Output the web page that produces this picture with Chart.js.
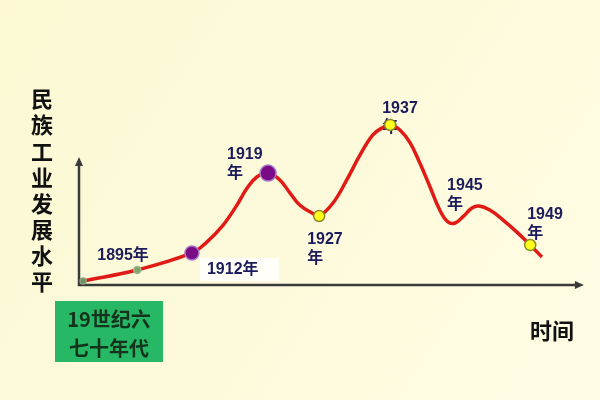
<!DOCTYPE html>
<html>
<head>
<meta charset="utf-8">
<script src="https://cdn.jsdelivr.net/npm/chart.js@4.4.1/dist/chart.umd.min.js"></script>
<style>
body { margin: 0; background: #fcfad8; }
#wrap { width: 600px; height: 400px; }
</style>
</head>
<body>
<div id="wrap"><canvas id="curveChart" width="600" height="400"></canvas></div>
<script>
// curve (x = time, y = level, both on a 0-100 scale)
var curveX = [0.8, 11.4, 22.1, 25.0, 28.2, 30.9, 32.9, 34.8, 37.0, 39.3, 41.3, 43.2, 45.6, 47.0, 49.7, 52.4, 55.0, 57.5, 59.3, 60.9, 62.8, 64.8, 66.7, 68.7, 70.6, 72.2, 73.6, 75.1, 76.9, 78.3, 80.4, 83.0, 85.7, 88.3, 90.6];
var curveY = [2.2, 8.1, 17.3, 23.2, 32.4, 43.2, 52.4, 58.4, 60.5, 56.8, 49.7, 43.2, 38.9, 37.3, 44.3, 56.8, 70.3, 81.1, 84.9, 86.5, 83.8, 76.8, 65.9, 53.0, 40.5, 34.1, 33.5, 36.8, 41.6, 42.7, 40.5, 35.1, 28.6, 21.6, 15.1];

// marked points on the curve
var markIndex = [0, 1, 2, 8, 13, 19, 33];
var markFill = ['#6f8f62', '#7fa36a', '#7a0a86', '#7a0a86', '#ffff1a', '#ffff1a', '#ffff1a'];
var markBorder = ['#8aa37d', '#9ab889', '#a676c4', '#a676c4', '#8c8a2a', '#8c8a2a', '#8c8a2a'];
var markSize = [3, 3.5, 7, 8, 5.5, 5.5, 5.5];

// year labels and the curve point each one sits by
var yearLabels = [['1895年'], ['1912年'], ['1919', '年'], ['1927', '年'], ['1937', '年'], ['1945', '年'], ['1949', '年']];
var labelIndex = [1, 2, 8, 13, 19, 26, 33];

var yTitle = '民族工业发展水平';
var xTitle = '时间';
var startNote = ['19世纪六', '七十年代'];

var curveData = curveX.map(function(x, i) { return { x: x, y: curveY[i] }; });
var markData = markIndex.map(function(i) { return { x: curveX[i], y: curveY[i] }; });

// where each label's text starts, relative to its curve point
var labelOffsets = [
    { dx: -40, dy: -14 },
    { dx: 15, dy: 17, box: true },
    { dx: -41, dy: -18 },
    { dx: -12, dy: 24 },
    { dx: -8, dy: -16 },
    { dx: -8, dy: -37 },
    { dx: -3, dy: -30 }
];

var backdrop = {
    id: 'backdrop',
    beforeDraw: function(chart) {
        var ctx = chart.ctx;
        var g = ctx.createLinearGradient(0, 0, chart.width, chart.height);
        g.addColorStop(0, '#fbf8d3');
        g.addColorStop(1, '#fffce4');
        ctx.save();
        ctx.fillStyle = g;
        ctx.fillRect(0, 0, chart.width, chart.height);
        ctx.restore();
    }
};

var axesAndLabels = {
    id: 'axesAndLabels',
    beforeDatasetsDraw: function(chart) {
        var ctx = chart.ctx;
        var xs = chart.scales.x, ys = chart.scales.y;
        var x0 = xs.getPixelForValue(0), y0 = ys.getPixelForValue(0);
        var xEnd = xs.getPixelForValue(98.8), yEnd = ys.getPixelForValue(69.2);
        ctx.save();
        ctx.strokeStyle = '#3a3a3a';
        ctx.fillStyle = '#3a3a3a';
        ctx.lineWidth = 2.5;
        ctx.beginPath();
        ctx.moveTo(x0, yEnd + 6);
        ctx.lineTo(x0, y0);
        ctx.lineTo(xEnd - 6, y0);
        ctx.stroke();
        // arrow heads
        ctx.beginPath();
        ctx.moveTo(x0, yEnd);
        ctx.lineTo(x0 - 4, yEnd + 9);
        ctx.lineTo(x0 + 4, yEnd + 9);
        ctx.closePath();
        ctx.fill();
        ctx.beginPath();
        ctx.moveTo(xEnd, y0);
        ctx.lineTo(xEnd - 9, y0 - 4);
        ctx.lineTo(xEnd - 9, y0 + 4);
        ctx.closePath();
        ctx.fill();

        // year labels
        ctx.font = 'bold 16px "Liberation Sans", "Noto Sans CJK SC", sans-serif';
        ctx.textAlign = 'left';
        ctx.textBaseline = 'middle';
        yearLabels.forEach(function(lines, k) {
            var i = labelIndex[k];
            var px = xs.getPixelForValue(curveX[i]);
            var py = ys.getPixelForValue(curveY[i]);
            var off = labelOffsets[k];
            if (off.box) {
                ctx.fillStyle = 'rgba(255,255,255,0.8)';
                ctx.fillRect(px + off.dx - 7, py + off.dy - 12, 79, 23);
            }
            ctx.fillStyle = '#1c1c5c';
            lines.forEach(function(t, j) {
                ctx.fillText(t, px + off.dx, py + off.dy + j * 19);
            });
        });
        ctx.restore();
    },
    afterDraw: function(chart) {
        var ctx = chart.ctx;
        ctx.save();
        ctx.textAlign = 'center';
        ctx.textBaseline = 'middle';
        ctx.fillStyle = '#111';
        ctx.font = 'bold 22px "Noto Sans CJK SC", sans-serif';
        for (var i = 0; i < yTitle.length; i++) {
            ctx.fillText(yTitle[i], 42, 99 + i * 26.1);
        }
        ctx.fillText(xTitle, 552, 331);

        // green note box under the origin
        ctx.fillStyle = '#27b865';
        ctx.fillRect(55, 301, 108, 61);
        ctx.fillStyle = '#14331c';
        ctx.font = 'bold 20px "Noto Sans CJK SC", sans-serif';
        ctx.fillText(startNote[0], 109, 319);
        ctx.fillText(startNote[1], 109, 348);
        ctx.restore();
    }
};

new Chart(document.getElementById('curveChart'), {
    type: 'line',
    data: {
        datasets: [
            {
                data: markData,
                showLine: false,
                pointRadius: markSize,
                pointBackgroundColor: markFill,
                pointBorderColor: markBorder,
                pointBorderWidth: 1.5
            },
            {
                data: curveData,
                borderColor: '#e01b16',
                borderWidth: 3.5,
                pointRadius: 0,
                tension: 0.4,
                fill: false
            }
        ]
    },
    options: {
        responsive: false,
        animation: false,
        layout: { padding: { left: 79, right: 10, top: 100, bottom: 115 } },
        scales: {
            x: { type: 'linear', min: 0, max: 100, display: false },
            y: { min: 0, max: 100, display: false }
        },
        plugins: {
            legend: { display: false },
            tooltip: { enabled: false }
        }
    },
    plugins: [backdrop, axesAndLabels]
});
</script>
</body>
</html>
